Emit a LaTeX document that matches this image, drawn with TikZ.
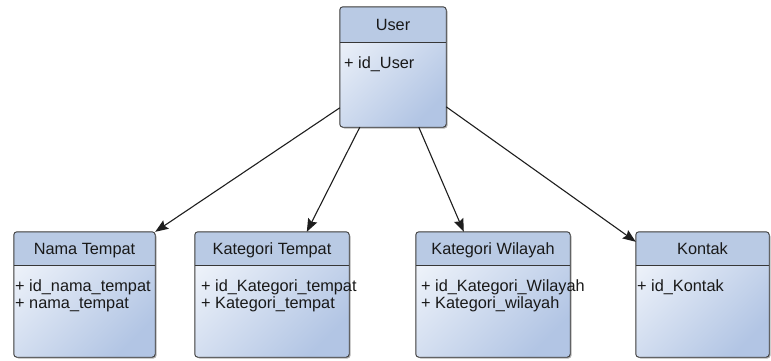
\documentclass[tikz,border=0pt]{standalone}
\usepackage{fontspec}
\setmainfont{Liberation Sans}
\usetikzlibrary{arrows.meta,shadows}
\definecolor{headfill}{RGB}{185,202,228}
\definecolor{bodylight}{RGB}{236,241,249}
\definecolor{bodydark}{RGB}{178,197,228}
\definecolor{edgecol}{RGB}{55,55,55}
\definecolor{linkcol}{RGB}{30,30,30}
\tikzset{
  classbody/.style={rectangle, rounded corners=3pt, inner sep=0pt,
    top color=bodylight, bottom color=bodydark, shading angle=45,
    drop shadow={shadow xshift=1.5pt, shadow yshift=-1.5pt, opacity=0.3, fill=black}},
  classedge/.style={draw=edgecol, line width=0.9pt, rounded corners=3pt},
  titletext/.style={anchor=base, inner sep=0pt, font=\fontsize{16.3}{19}\selectfont, text=black!90},
  attrtext/.style={anchor=base west, inner sep=0pt, font=\fontsize{16.3}{19}\selectfont, text=black!90},
  link/.style={draw=linkcol, line width=1.1pt, -{Stealth[length=13pt,width=10pt,inset=2pt]}},
}
% class box: #1 name, #2 left, #3 top, #4 right, #5 bottom,
% #6 header height, #7 title, #8 title baseline below top
\newcommand\classbox[8]{%
  \node[classbody, minimum width={(#4-#2)*1pt}, minimum height={(#5-#3)*1pt}]
    (#1) at ({(#2+#4)/2},{(#3+#5)/2}) {};
  \begin{scope}
    \clip[rounded corners=3pt] (#1.north west) rectangle (#1.south east);
    \fill[headfill] (#1.north west) rectangle ([yshift=-#6pt]#1.north east);
  \end{scope}
  \draw[edgecol, line width=0.9pt] ([yshift=-#6pt]#1.north west) -- ([yshift=-#6pt]#1.north east);
  \draw[classedge] (#1.north west) rectangle (#1.south east);
  \node[titletext] (#1-title) at ([yshift=-#8pt]#1.north) {#7};
}
\begin{document}
\begin{tikzpicture}[x=1pt, y=-1pt]
  \useasboundingbox (0,0) rectangle (771,360);

  \classbox{user}{340}{7}{446}{127}{36}{User}{24}
  \node[attrtext] (user-a1) at (344,68) {+ id\_User};

  \classbox{nama}{14}{232}{155}{357}{34}{Nama Tempat}{23}
  \node[attrtext] (nama-a1) at (15,291) {+ id\_nama\_tempat};
  \node[attrtext] (nama-a2) at (15,308) {+ nama\_tempat};

  \classbox{ktempat}{195}{232}{349}{357}{34}{Kategori Tempat}{23}
  \node[attrtext] (ktempat-a1) at (201,291) {+ id\_Kategori\_tempat};
  \node[attrtext] (ktempat-a2) at (201,308) {+ Kategori\_tempat};

  \classbox{kwilayah}{416}{232}{570}{357}{34}{Kategori Wilayah}{23}
  \node[attrtext] (kwilayah-a1) at (421,291) {+ id\_Kategori\_Wilayah};
  \node[attrtext] (kwilayah-a2) at (421,308) {+ Kategori\_wilayah};

  \classbox{kontak}{636}{232}{769}{357}{34}{Kontak}{23}
  \node[attrtext] (kontak-a1) at (637,291) {+ id\_Kontak};

  % associations from User
  \draw[link] ([yshift=-101pt]user.north west) -- (nama.north east);
  \draw[link] ([xshift=20pt]user.south west) -- ([xshift=112pt]ktempat.north west);
  \draw[link] ([xshift=79pt]user.south west) -- ([xshift=48pt]kwilayah.north west);
  \draw[link] ([yshift=-100pt]user.north east) -- ([yshift=-10pt]kontak.north west);
\end{tikzpicture}
\end{document}
